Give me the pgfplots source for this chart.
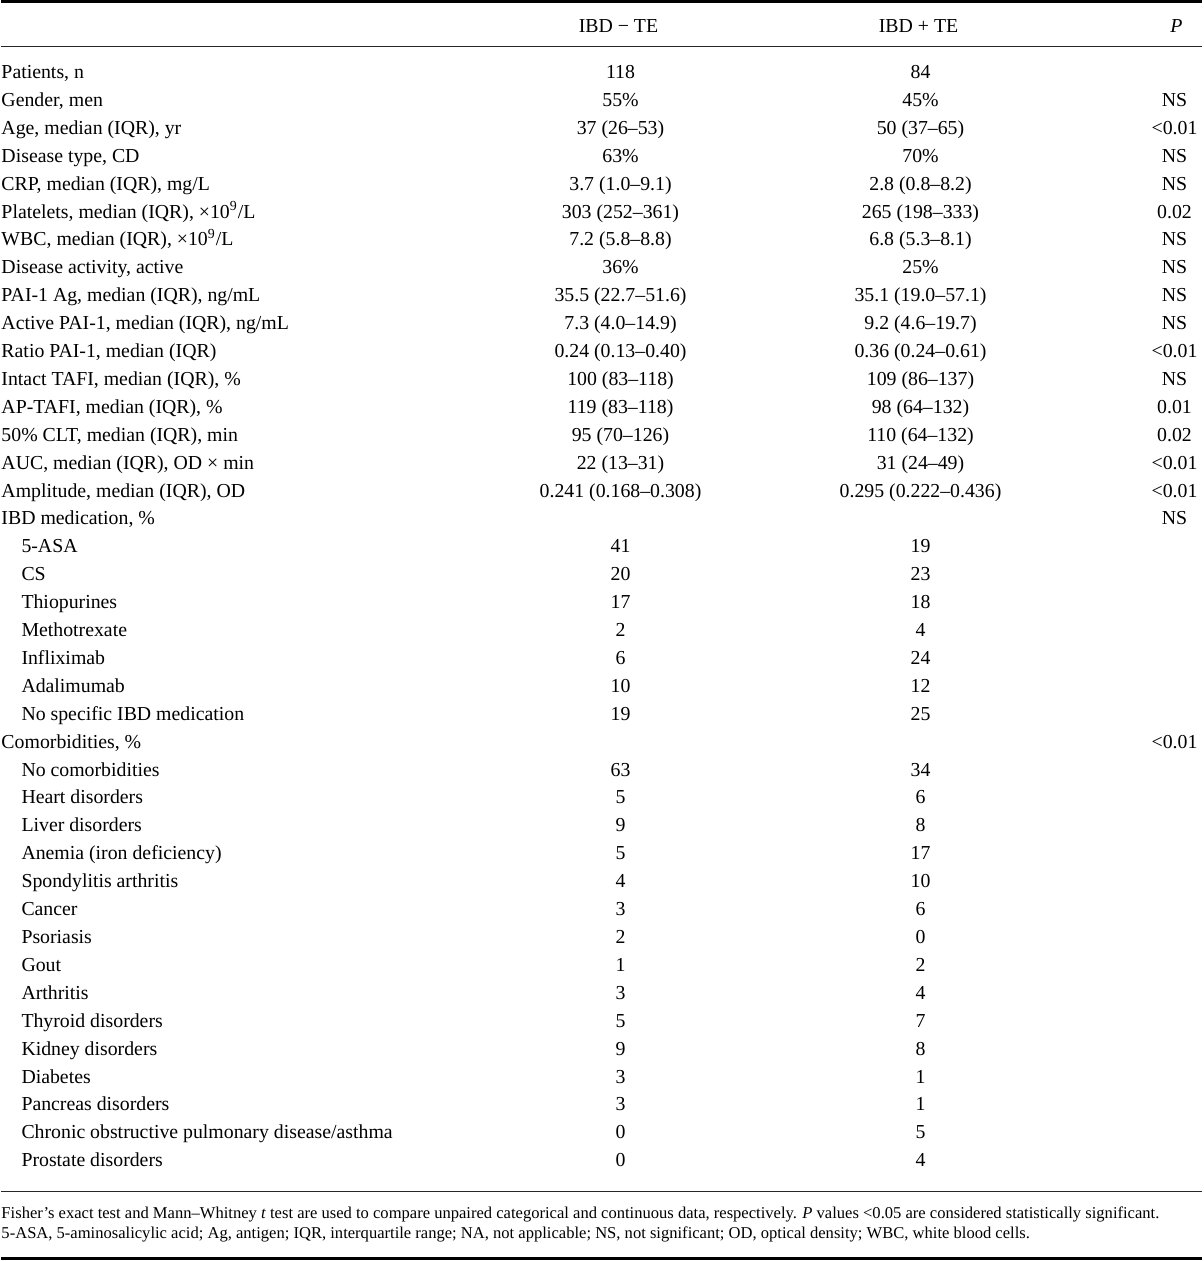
\documentclass[border=0pt]{standalone}
\usepackage{fontspec}
\setmainfont{Liberation Serif}
\usepackage{pgfplots}
\usepackage{pgfplotstable}
\pgfplotsset{compat=1.18}
\newcommand{\tabfont}{\fontsize{9.9}{11.8}\selectfont}
\newcommand{\notefont}{\fontsize{8.28}{10}\selectfont}
\pgfplotsset{
  tabtext/.style n args={3}{draw=none, mark=none,
    point meta=y,
    visualization depends on={value \coordindex\as\rowi},
    nodes near coords={\pgfplotstablegetelem{\rowi}{#2}\of#1\pgfplotsretval},
    every node near coord/.append style={inner sep=0pt, outer sep=0pt, yshift=-1pt, font=\tabfont, text=black, #3}},
}
\pgfplotstableread[col sep=&, row sep=\\]{
x & y & t \\
617 & 26 & IBD − TE \\
917 & 26 & IBD + TE \\
1175 & 26 & \textit{P} \\
}\header
\pgfplotstableread[col sep=&, row sep=\\]{
x & y & t \\
0 & 72 & Patients, n \\
0 & 99.9 & Gender, men \\
0 & 127.8 & Age, median (IQR), yr \\
0 & 155.7 & Disease type, CD \\
0 & 183.6 & CRP, median (IQR), mg/L \\
0 & 211.5 & Platelets, median (IQR), ×10\textsuperscript{9}/L \\
0 & 239.4 & WBC, median (IQR), ×10\textsuperscript{9}/L \\
0 & 267.3 & Disease activity, active \\
0 & 295.2 & PAI-1 Ag, median (IQR), ng/mL \\
0 & 323.1 & Active PAI-1, median (IQR), ng/mL \\
0 & 351 & Ratio PAI-1, median (IQR) \\
0 & 378.9 & Intact TAFI, median (IQR), \% \\
0 & 406.8 & AP-TAFI, median (IQR), \% \\
0 & 434.7 & 50\% CLT, median (IQR), min \\
0 & 462.6 & AUC, median (IQR), OD × min \\
0 & 490.5 & Amplitude, median (IQR), OD \\
0 & 518.4 & IBD medication, \% \\
20 & 546.3 & 5-ASA \\
20 & 574.2 & CS \\
20 & 602.1 & Thiopurines \\
20 & 630 & Methotrexate \\
20 & 657.9 & Infliximab \\
20 & 685.8 & Adalimumab \\
20 & 713.7 & No specific IBD medication \\
0 & 741.6 & Comorbidities, \% \\
20 & 769.5 & No comorbidities \\
20 & 797.4 & Heart disorders \\
20 & 825.3 & Liver disorders \\
20 & 853.2 & Anemia (iron deficiency) \\
20 & 881.1 & Spondylitis arthritis \\
20 & 909 & Cancer \\
20 & 936.9 & Psoriasis \\
20 & 964.8 & Gout \\
20 & 992.7 & Arthritis \\
20 & 1020.6 & Thyroid disorders \\
20 & 1048.5 & Kidney disorders \\
20 & 1076.4 & Diabetes \\
20 & 1104.3 & Pancreas disorders \\
20 & 1132.2 & Chronic obstructive pulmonary disease/asthma \\
20 & 1160.1 & Prostate disorders \\
}\labels
\pgfplotstableread[col sep=&, row sep=\\]{
y & a & b \\
72 & 118 & 84 \\
99.9 & 55\% & 45\% \\
127.8 & 37 (26--53) & 50 (37--65) \\
155.7 & 63\% & 70\% \\
183.6 & 3.7 (1.0--9.1) & 2.8 (0.8--8.2) \\
211.5 & 303 (252--361) & 265 (198--333) \\
239.4 & 7.2 (5.8--8.8) & 6.8 (5.3--8.1) \\
267.3 & 36\% & 25\% \\
295.2 & 35.5 (22.7--51.6) & 35.1 (19.0--57.1) \\
323.1 & 7.3 (4.0--14.9) & 9.2 (4.6--19.7) \\
351 & 0.24 (0.13--0.40) & 0.36 (0.24--0.61) \\
378.9 & 100 (83--118) & 109 (86--137) \\
406.8 & 119 (83--118) & 98 (64--132) \\
434.7 & 95 (70--126) & 110 (64--132) \\
462.6 & 22 (13--31) & 31 (24--49) \\
490.5 & 0.241 (0.168--0.308) & 0.295 (0.222--0.436) \\
546.3 & 41 & 19 \\
574.2 & 20 & 23 \\
602.1 & 17 & 18 \\
630 & 2 & 4 \\
657.9 & 6 & 24 \\
685.8 & 10 & 12 \\
713.7 & 19 & 25 \\
769.5 & 63 & 34 \\
797.4 & 5 & 6 \\
825.3 & 9 & 8 \\
853.2 & 5 & 17 \\
881.1 & 4 & 10 \\
909 & 3 & 6 \\
936.9 & 2 & 0 \\
964.8 & 1 & 2 \\
992.7 & 3 & 4 \\
1020.6 & 5 & 7 \\
1048.5 & 9 & 8 \\
1076.4 & 3 & 1 \\
1104.3 & 3 & 1 \\
1132.2 & 0 & 5 \\
1160.1 & 0 & 4 \\
}\values
\pgfplotstableread[col sep=&, row sep=\\]{
y & p \\
99.9 & NS \\
127.8 & <0.01 \\
155.7 & NS \\
183.6 & NS \\
211.5 & 0.02 \\
239.4 & NS \\
267.3 & NS \\
295.2 & NS \\
323.1 & NS \\
351 & <0.01 \\
378.9 & NS \\
406.8 & 0.01 \\
434.7 & 0.02 \\
462.6 & <0.01 \\
490.5 & <0.01 \\
518.4 & NS \\
741.6 & <0.01 \\
}\pvals
\pgfplotstableread[col sep=&, row sep=\\]{
x & y & t \\
0 & 1212 & Fisher’s exact test and Mann–Whitney \textit{t} test are used to compare unpaired categorical and continuous data, respectively. \textit{P} values <0.05 are considered statistically significant. \\
0 & 1232 & 5-ASA, 5-aminosalicylic acid; Ag, antigen; IQR, interquartile range; NA, not applicable; NS, not significant; OD, optical density; WBC, white blood cells. \\
}\notes
\begin{document}
\begin{tikzpicture}
\begin{axis}[
  scale only axis, width=600pt, height=630.5pt,
  xmin=0, xmax=1200, ymin=0, ymax=1261, y dir=reverse,
  hide axis, clip=false,
]
\path (rel axis cs:0,0) rectangle (rel axis cs:1,1);
% rules
\addplot[black, line width=1.5pt, mark=none] coordinates {(0,1.5) (1200,1.5)};
\addplot[black!85, line width=0.9pt, mark=none] coordinates {(0,46.5) (1200,46.5)};
\addplot[black!85, line width=0.9pt, mark=none] coordinates {(0,1191.5) (1200,1191.5)};
\addplot[black, line width=1.5pt, mark=none] coordinates {(0,1258.5) (1200,1258.5)};
\addplot[tabtext={\header}{t}{anchor=mid}] table[x=x, y=y] {\header};
\addplot[tabtext={\labels}{t}{anchor=mid west}] table[x=x, y=y] {\labels};
\addplot[tabtext={\values}{a}{anchor=mid}] table[x expr=619, y=y] {\values};
\addplot[tabtext={\values}{b}{anchor=mid}] table[x expr=919, y=y] {\values};
\addplot[tabtext={\pvals}{p}{anchor=mid}] table[x expr=1173, y=y] {\pvals};
\addplot[tabtext={\notes}{t}{anchor=mid west, font=\notefont}] table[x=x, y=y] {\notes};
\end{axis}
\end{tikzpicture}
\end{document}
